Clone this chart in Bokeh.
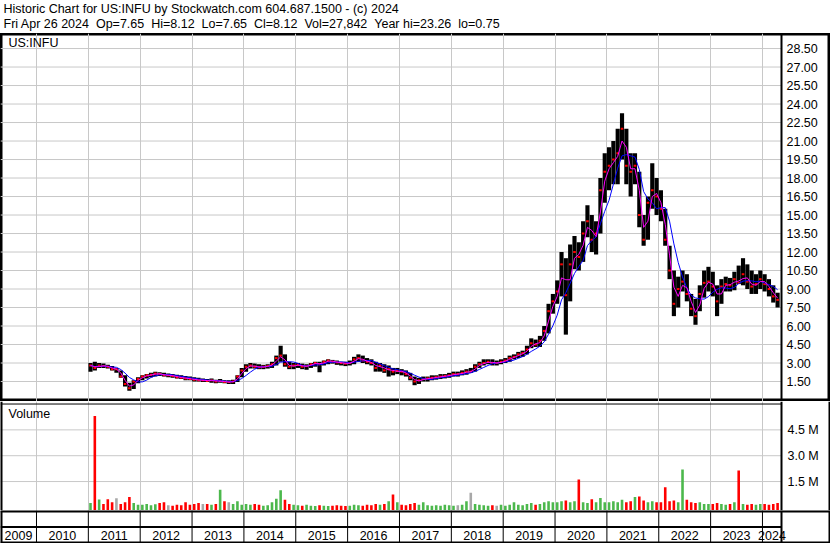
import pandas as pd
from bokeh.plotting import figure
from bokeh.layouts import column
from bokeh.models import Range1d, FixedTicker, Span, Label
from bokeh.core.properties import value
from bokeh.embed import file_html
from bokeh.resources import INLINE

# ---------------- data: monthly bars, Jan 2011 .. Apr 2024 ----------------
high = [
    3.0, 3.1, 3.0, 2.95, 2.85, 2.75, 2.6, 2.4, 2.0, 1.4, 1.6, 1.85,        # 2011
    2.0, 2.1, 2.2, 2.3, 2.25, 2.2, 2.15, 2.1, 2.05, 2.0, 1.95, 1.9,        # 2012
    1.85, 1.8, 1.75, 1.7, 1.75, 1.65, 1.7, 1.6, 1.6, 1.65, 2.0, 2.6,       # 2013
    2.9, 3.0, 2.95, 2.9, 2.85, 2.9, 3.1, 3.6, 4.4, 3.7, 3.1, 3.0,          # 2014
    3.0, 2.95, 2.9, 3.0, 3.1, 3.1, 3.2, 3.3, 3.25, 3.2, 3.1, 3.1,          # 2015
    3.2, 3.5, 3.7, 3.6, 3.4, 3.3, 3.1, 3.0, 2.9, 2.8, 2.6, 2.6,            # 2016
    2.5, 2.4, 2.2, 1.9, 1.8, 1.9, 1.9, 2.0, 2.0, 2.1, 2.1, 2.2,            # 2017
    2.3, 2.3, 2.4, 2.5, 2.6, 2.9, 3.1, 3.3, 3.3, 3.3, 3.2, 3.3,            # 2018
    3.4, 3.6, 3.7, 3.9, 4.0, 4.4, 5.0, 4.9, 5.2, 6.0, 7.8, 8.6,            # 2019
    9.7, 12.0, 11.5, 12.6, 13.3, 12.8, 14.5, 15.8, 15.0, 14.5, 18.0, 20.0, # 2020
    20.5, 21.0, 22.0, 23.26, 22.0, 20.0, 20.0, 18.5, 15.0, 16.5, 19.2, 18.0,  # 2021
    17.0, 15.5, 12.5, 10.5, 10.0, 10.5, 10.2, 8.6, 8.2, 9.3, 10.5, 10.8,   # 2022
    10.4, 9.3, 9.8, 10.0, 9.9, 10.4, 10.9, 11.5, 11.0, 10.5, 10.2, 10.5,   # 2023
    10.2, 9.8, 9.3, 8.7,                                                   # 2024
]
low = [
    2.3, 2.4, 2.6, 2.6, 2.55, 2.4, 2.2, 1.8, 1.1, 0.75, 0.9, 1.35,
    1.6, 1.75, 1.85, 1.9, 1.95, 1.9, 1.85, 1.8, 1.75, 1.7, 1.6, 1.6,
    1.5, 1.5, 1.45, 1.45, 1.4, 1.35, 1.4, 1.35, 1.3, 1.3, 1.45, 1.85,
    2.3, 2.55, 2.55, 2.5, 2.5, 2.55, 2.6, 2.8, 3.1, 2.7, 2.5, 2.5,
    2.6, 2.5, 2.45, 2.6, 2.7, 2.25, 2.8, 2.9, 2.95, 2.85, 2.8, 2.75,
    2.8, 2.9, 3.1, 3.0, 2.9, 2.8, 2.3, 2.3, 2.2, 1.9, 2.0, 2.1,
    2.0, 1.9, 1.6, 1.2, 1.3, 1.5, 1.5, 1.6, 1.65, 1.7, 1.75, 1.8,
    1.9, 1.9, 2.0, 2.05, 2.2, 2.3, 2.6, 2.8, 2.9, 2.8, 2.8, 2.9,
    3.0, 3.1, 3.3, 3.4, 3.5, 3.7, 4.2, 4.3, 4.3, 4.8, 5.4, 7.0,
    7.8, 8.4, 5.3, 8.0, 10.6, 10.5, 11.2, 13.2, 12.0, 11.8, 13.5, 16.0,
    17.0, 17.5, 17.5, 19.5, 17.5, 16.5, 17.5, 14.0, 12.5, 13.0, 15.5, 15.0,
    14.5, 12.5, 9.8, 6.8, 7.5, 8.8, 8.0, 6.8, 6.1, 7.2, 8.3, 8.8,
    8.4, 6.8, 7.8, 8.8, 8.8, 8.9, 9.4, 9.3, 9.0, 8.6, 8.6, 9.0,
    8.8, 8.4, 7.9, 7.5,
]
close = [
    2.8, 2.6, 2.8, 2.75, 2.7, 2.5, 2.5, 1.9, 1.3, 0.95, 1.5, 1.7,
    1.9, 2.0, 2.05, 2.15, 2.1, 2.0, 2.0, 1.95, 1.85, 1.8, 1.75, 1.7,
    1.65, 1.6, 1.6, 1.55, 1.6, 1.5, 1.55, 1.45, 1.45, 1.5, 1.9, 2.4,
    2.7, 2.8, 2.7, 2.65, 2.7, 2.75, 2.9, 3.4, 3.6, 2.9, 2.7, 2.8,
    2.85, 2.7, 2.75, 2.9, 3.0, 2.9, 3.1, 3.2, 3.1, 3.05, 3.0, 2.95,
    3.0, 3.3, 3.4, 3.2, 3.1, 3.0, 2.6, 2.8, 2.4, 2.5, 2.3, 2.35,
    2.3, 2.1, 1.8, 1.5, 1.6, 1.7, 1.75, 1.8, 1.85, 1.9, 1.95, 2.0,
    2.1, 2.1, 2.2, 2.3, 2.3, 2.7, 2.9, 3.0, 3.1, 3.0, 3.0, 3.1,
    3.2, 3.4, 3.5, 3.7, 3.8, 4.1, 4.6, 4.5, 4.8, 5.6, 7.2, 8.0,
    8.8, 11.0, 8.5, 11.0, 12.0, 11.6, 13.5, 14.5, 13.0, 13.5, 17.0, 18.5,
    19.0, 19.5, 20.0, 22.0, 19.0, 18.5, 19.0, 15.0, 13.0, 16.0, 17.0, 16.5,
    15.5, 13.0, 10.5, 7.8, 9.0, 9.6, 8.6, 7.4, 6.8, 8.6, 9.5, 9.6,
    9.2, 8.0, 9.2, 9.4, 9.3, 9.8, 9.5, 10.2, 9.6, 9.2, 9.4, 9.8,
    9.4, 9.0, 8.4, 8.12,
]
volume_m = [
    0.25, 5.3, 0.46, 0.2, 0.47, 0.3, 0.53, 0.2, 0.3, 0.6, 0.25, 0.15,
    0.15, 0.2, 0.12, 0.18, 0.25, 0.3, 0.12, 0.1, 0.15, 0.12, 0.3, 0.15,
    0.2, 0.25, 0.2, 0.2, 0.15, 0.2, 1.02, 0.35, 0.3, 0.2, 0.35, 0.15,
    0.2, 0.15, 0.2, 0.15, 0.1, 0.12, 0.3, 0.5, 1.0, 0.45, 0.2, 0.15,
    0.12, 0.1, 0.15, 0.1, 0.08, 0.12, 0.1, 0.08, 0.1, 0.12, 0.1, 0.08,
    0.1, 0.15, 0.12, 0.1, 0.15, 0.12, 0.2, 0.15, 0.2, 0.35, 0.75, 0.3,
    0.15, 0.12, 0.2, 0.25, 0.15, 0.3, 0.12, 0.1, 0.12, 0.1, 0.15, 0.12,
    0.1, 0.12, 0.15, 0.35, 0.85, 0.2, 0.15, 0.12, 0.1, 0.12, 0.1, 0.15,
    0.1, 0.15, 0.3, 0.15, 0.12, 0.2, 0.25, 0.15, 0.2, 0.3, 0.35, 0.3,
    0.3, 0.35, 0.4, 0.3, 0.35, 1.62, 0.3, 0.25, 0.48, 0.3, 0.55, 0.3,
    0.3, 0.35, 0.3, 0.45, 0.3, 0.35, 0.6, 0.63, 0.4, 0.3, 0.35, 0.3,
    0.3, 1.17, 0.35, 0.4, 0.3, 2.2, 0.45, 0.3, 0.25, 0.3, 0.2, 0.2,
    0.2, 0.25, 0.2, 0.15, 0.2, 0.3, 2.14, 0.2, 0.15, 0.2, 0.15, 0.2,
    0.2, 0.15, 0.2, 0.25,
]

price_ticks = [1.5, 3.0, 4.5, 6.0, 7.5, 9.0, 10.5, 12.0, 13.5, 15.0, 16.5, 18.0,
               19.5, 21.0, 22.5, 24.0, 25.5, 27.0, 28.5]
price_labels = ["1.50", "3.00", "4.50", "6.00", "7.50", "9.00", "10.50", "12.00",
                "13.50", "15.00", "16.50", "18.00", "19.50", "21.00", "22.50",
                "24.00", "25.50", "27.00", "28.50"]
vol_ticks = [1.5e6, 3.0e6, 4.5e6]
vol_labels = ["1.5 M", "3.0 M", "4.5 M"]
vol_top = 6.0e6
years = [2009, 2010, 2011, 2012, 2013, 2014, 2015, 2016, 2017, 2018, 2019, 2020,
         2021, 2022, 2023, 2024]
year_labels = ["2009", "2010", "2011", "2012", "2013", "2014", "2015", "2016",
               "2017", "2018", "2019", "2020", "2021", "2022", "2023", "2024"]
symbol = "US:INFU"
header1 = "Historic Chart for US:INFU by Stockwatch.com 604.687.1500 - (c) 2024"
header2 = ("Fri Apr 26 2024 \u00a0Op=7.65 \u00a0Hi=8.12 \u00a0Lo=7.65 \u00a0Cl=8.12"
           " \u00a0Vol=27,842 \u00a0Year hi=23.26 \u00a0lo=0.75")

# ---------------- derived ----------------
months = pd.date_range("2011-01-01", periods=len(close), freq="MS")
xm = [d.year + (d.month - 0.5) / 12 for d in months]
cs = pd.Series(close)
ma_fast = cs.rolling(2, min_periods=1).mean().tolist()
ma_slow = cs.rolling(5, min_periods=1).mean().tolist()
volume = [v * 1e6 for v in volume_m]
vol_colors = []
for i, c in enumerate(close):
    prev = close[i - 1] if i > 0 else None
    if prev is None or c > prev:
        vol_colors.append("#4cb84c")
    elif c < prev:
        vol_colors.append("#ff0000")
    else:
        vol_colors.append("#a8a8a8")

# ---------------- layout constants ----------------
W = 830
XS, XSEP, XE = 2009.306, 2024.367, 2025.312
FONT = "Liberation Sans"
FS = "12.5px"
GRID = "#c8c8c8"
TXT = "#000000"
P_Y0, P_Y1 = -0.122, 29.72
V_Y0, V_Y1 = -0.18e6, 6.146e6
BAR_W = 0.08


def base_fig(h, y0, y1):
    p = figure(width=W, height=h, x_range=Range1d(XS, XE), y_range=Range1d(y0, y1),
               x_axis_location=None, y_axis_location=None, toolbar_location=None,
               output_backend="svg", min_border=0, title=None)
    p.outline_line_color = None
    p.background_fill_color = "white"
    p.border_fill_color = "white"
    p.xgrid.visible = False
    p.ygrid.visible = False
    return p


def frame_lines(p, top=False, bottom=False, y0=None, y1=None):
    p.add_layout(Span(location=XS, dimension="height", line_color="black", line_width=4))
    p.add_layout(Span(location=XE, dimension="height", line_color="black", line_width=4))
    p.add_layout(Span(location=XSEP, dimension="height", line_color="black", line_width=2))
    if top:
        p.add_layout(Span(location=y1, dimension="width", line_color="black", line_width=4))
    if bottom:
        p.add_layout(Span(location=y0, dimension="width", line_color="black", line_width=4))


# ---------------- header ----------------
hdr = base_fig(33, 0, 1)
hdr.add_layout(Label(x=XS, y=1, x_offset=3, y_offset=-1, text=header1, text_baseline="top",
                     text_font=FONT, text_font_size=FS, text_color=TXT))
hdr.add_layout(Label(x=XS, y=1, x_offset=3, y_offset=-16, text=header2, text_baseline="top",
                     text_font=FONT, text_font_size=FS, text_color=TXT))

# ---------------- price panel ----------------
pp = base_fig(368, P_Y0, P_Y1)
pp.xgrid.visible = True
pp.xgrid.ticker = FixedTicker(ticks=years)
pp.xgrid.grid_line_color = GRID
pp.segment(x0=XS, x1=XSEP, y0=price_ticks, y1=price_ticks, line_color=GRID, line_width=1)
pp.vbar(x=xm, width=BAR_W, top=high, bottom=low, fill_color="black", line_color=None)
pp.rect(x=xm, y=close, width=0.05, height=2, height_units="screen",
        fill_color="#ff0000", line_color=None)
pp.line(xm, ma_slow, line_color="#0000ff", line_width=1)
pp.line(xm, ma_fast, line_color="#ff00ff", line_width=1)
pp.text(x=XSEP, y=price_ticks, text=price_labels, x_offset=5, text_baseline="middle",
        text_align="left", text_font=value(FONT), text_font_size=value(FS), text_color=TXT)
pp.add_layout(Label(x=XS, y=P_Y1, x_offset=8, y_offset=-2, text=symbol, text_baseline="top",
                    text_font=FONT, text_font_size=FS, text_color=TXT))
pp.outline_line_color = "black"
pp.outline_line_width = 4
pp.add_layout(Span(location=XSEP, dimension="height", line_color="black", line_width=2))

# ---------------- volume panel ----------------
pv = base_fig(109, V_Y0, V_Y1)
pv.xgrid.visible = True
pv.xgrid.ticker = FixedTicker(ticks=years)
pv.xgrid.grid_line_color = GRID
pv.segment(x0=XS, x1=XSEP, y0=vol_ticks, y1=vol_ticks, line_color=GRID, line_width=1)
pv.vbar(x=xm, width=0.05, top=volume, bottom=V_Y0, fill_color=vol_colors, line_color=None)
pv.segment(x0=XS, x1=XSEP, y0=vol_top, y1=vol_top, line_color="black", line_width=1)
pv.text(x=XSEP, y=vol_ticks, text=vol_labels, x_offset=6, text_baseline="middle",
        text_align="left", text_font=value(FONT), text_font_size=value(FS), text_color=TXT)
pv.add_layout(Label(x=XS, y=vol_top, x_offset=8, y_offset=-3, text="Volume", text_baseline="top",
                    text_font=FONT, text_font_size=FS, text_color=TXT))
frame_lines(pv)

# ---------------- year axis ----------------
py = base_fig(33, 0, 2)
inner_years = [y for y in years if XS < y < XSEP]
py.segment(x0=inner_years, x1=inner_years, y0=0, y1=2, line_color="black", line_width=1)
py.segment(x0=XS, x1=XSEP, y0=1, y1=1, line_color="black", line_width=2)
year_centers = [(max(y, XS) + min(y + 1, XSEP)) / 2 for y in years]
py.text(x=year_centers, y=0.5, text=year_labels, text_align="center", text_baseline="middle",
        text_font=value(FONT), text_font_size=value(FS), text_color=TXT)
frame_lines(py, top=True, bottom=True, y0=0, y1=2)

layout = column(hdr, pp, pv, py, spacing=0)

open("out.html", "w").write(file_html(layout, INLINE))
